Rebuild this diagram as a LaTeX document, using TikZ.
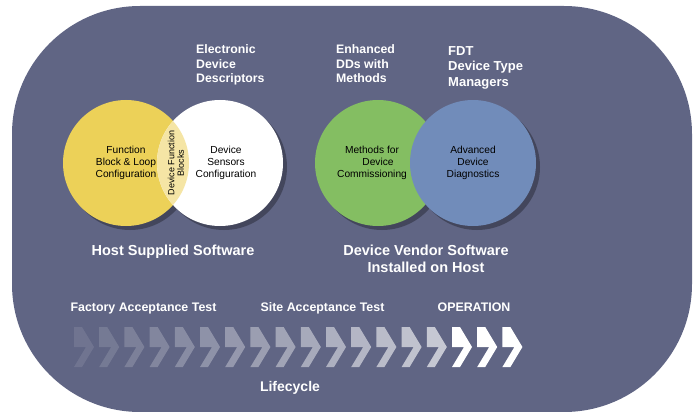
\documentclass[tikz,border=0pt]{standalone}
\usepackage{fontspec}
\setmainfont{Liberation Sans}
\usetikzlibrary{shapes,shadows}
\usetikzlibrary{calc,positioning}

\definecolor{slate}{RGB}{96,101,132}
\definecolor{sun}{RGB}{236,209,88}
\definecolor{leaf}{RGB}{132,190,98}
\definecolor{steel}{RGB}{113,140,186}
\definecolor{cream}{RGB}{245,229,165}

\begin{document}
\begin{tikzpicture} [x=1pt,y=-1pt,
        disc/.style={
            circle,
            minimum size=126pt,
            inner sep=0pt,
            fill=#1,
            align=center,
            text=black,
            font=\fontsize{10.2}{12}\selectfont,
            drop shadow={fill=black,opacity=0.3,shadow xshift=4pt,shadow yshift=-4pt}},
        head/.style 2 args={
            anchor=base west,
            inner sep=0pt,
            align=left,
            text=white,
            font=\bfseries\fontsize{#1}{#2}\selectfont},
        caption/.style={
            align=center,
            text=white,
            inner sep=0pt,
            font=\bfseries\fontsize{14.5}{17}\selectfont},
        stage/.style={
            anchor=base,
            inner sep=0pt,
            text=white,
            font=\bfseries\fontsize{12.4}{14}\selectfont}]

    \useasboundingbox (0,0) rectangle (697,412);
    \fill[slate,rounded corners=128pt] (12,6) rectangle (692,412);

    %draw the four circles
    \node[disc=sun] (fb) at (126,163) {Function\\Block \& Loop\\Configuration};
    \node[disc=white] (ds) at (220,163) {\hspace*{12pt}Device\\\hspace*{12pt}Sensors\\\hspace*{12pt}Configuration};
    \begin{scope}
        \clip (fb.center) circle[radius=63pt];
        \fill[cream] (ds.center) circle[radius=63pt];
    \end{scope}
    \node[rotate=90,align=center,inner sep=0pt,font=\fontsize{9}{9.5}\selectfont] (dfb) at (176,163) {Device Function\\Blocks};

    \node[disc=leaf] (mc) at (378,163) {Methods for\hspace*{12pt}\\Device\hspace*{12pt}\\Commissioning\hspace*{12pt}};
    \node[disc=steel] (ad) at (473,163) {Advanced\\Device\\Diagnostics};

    %headings (base = last line)
    \node[head={12.3}{14.5}] (edd) at (196,83) {Electronic\\Device\\Descriptors};
    \node[head={12.3}{14.5}] (ddm) at (336,83) {Enhanced\\DDs with\\Methods};
    \node[head={13}{16}] (dtm) at (448,87) {FDT\\Device Type\\Managers};

    %captions below the circles
    \node[caption,anchor=base] (hss) at (173,255) {Host Supplied Software};
    \node[caption,anchor=base] (dvs) at (426,272) {Device Vendor Software\\Installed on Host};

    %lifecycle
    \node[stage] (fat) at (143.5,311) {Factory Acceptance Test};
    \node[stage] (sat) at (322.5,311) {Site Acceptance Test};
    \node[stage] (op) at (474,311) {OPERATION};

    \foreach \step in {0,...,17} {
        \pgfmathsetmacro{\shade}{min(1,0.1+0.039*\step)}
        \ifnum\step>14 \def\shade{1}\fi
        \fill[white,fill opacity=\shade] ($(74,347)+(25.2*\step,0)$) -- ++(0,-20) -- ++(8,0)
            -- ++(12,20) -- ++(-12,20) -- ++(-8,0) -- ++(12,-20) -- cycle;
    }

    \node[stage,font=\bfseries\fontsize{14}{16}\selectfont] (lc) at (290,391) {Lifecycle};

\end{tikzpicture}
\end{document}
